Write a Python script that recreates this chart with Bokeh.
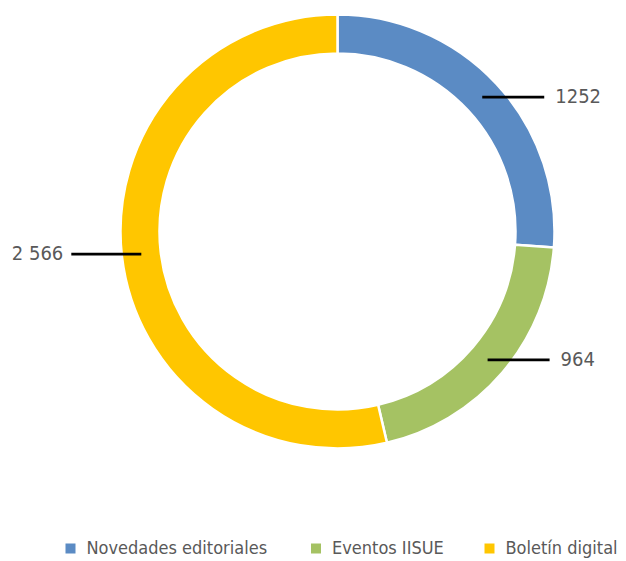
import numpy as np
from bokeh.plotting import figure
from bokeh.models import Range1d, ColumnDataSource
from bokeh.core.properties import value
from bokeh.embed import file_html
from bokeh.resources import INLINE

categories = ["Novedades editoriales", "Eventos IISUE", "Boletín digital"]
values = [1252, 964, 2566]
value_labels = ["1252", "964", "2 566"]
colors = ["#5B8BC4", "#A5C263", "#FFC600"]

FONT = "DejaVu Sans Condensed"
W, H = 626, 561

p = figure(width=W, height=H, output_backend="svg", toolbar_location=None,
           x_range=Range1d(0, W), y_range=Range1d(0, H), min_border=0)
p.axis.visible = False
p.grid.visible = False
p.outline_line_color = None
p.background_fill_color = "white"

cx, cy = 337, H - 231
r_in, r_out = 178, 217

vals = np.array(values, dtype=float)
frac = vals / vals.sum()
cum_end = np.cumsum(frac) * 2 * np.pi
cum_start = cum_end - frac * 2 * np.pi
start_angle = np.pi / 2 - cum_end
end_angle = np.pi / 2 - cum_start

src = ColumnDataSource(dict(start=start_angle, end=end_angle, color=colors))
p.annular_wedge(x=cx, y=cy, inner_radius=r_in, outer_radius=r_out,
                start_angle="start", end_angle="end", direction="anticlock",
                fill_color="color", line_color="white", line_width=2.5, source=src)

# leader lines and labels
mid = np.pi / 2 - (cum_start + cum_end) / 2
r_mid = (r_in + r_out) / 2
lx0 = cx + r_mid * np.cos(mid)
ly0 = cy + r_mid * np.sin(mid)
right = np.cos(mid) > 0
lx1 = np.where(right, lx0 + 62, lx0 - 70)
p.segment(x0=lx0, y0=ly0, x1=lx1, y1=ly0, line_color="black", line_width=2.6)

tx = np.where(right, lx1 + 11, lx1 - 8)
for i in range(len(values)):
    p.text(x=[tx[i]], y=[ly0[i] + 1], text=[value_labels[i]],
           text_align="left" if right[i] else "right", text_baseline="middle",
           text_font=value(FONT), text_font_size="20px", text_color="#595959")

# legend
leg_sq_x = [70, 315.5, 489]
leg_y = H - 548
p.scatter(x=leg_sq_x, y=[leg_y] * 3, marker="square", size=10,
          fill_color=colors, line_color=None)
p.text(x=[x + 16 for x in leg_sq_x], y=[leg_y + 1] * 3, text=categories,
       text_align="left", text_baseline="middle",
       text_font=value(FONT), text_font_size="18px", text_color="#595959")

open("out.html", "w").write(file_html(p, INLINE))
